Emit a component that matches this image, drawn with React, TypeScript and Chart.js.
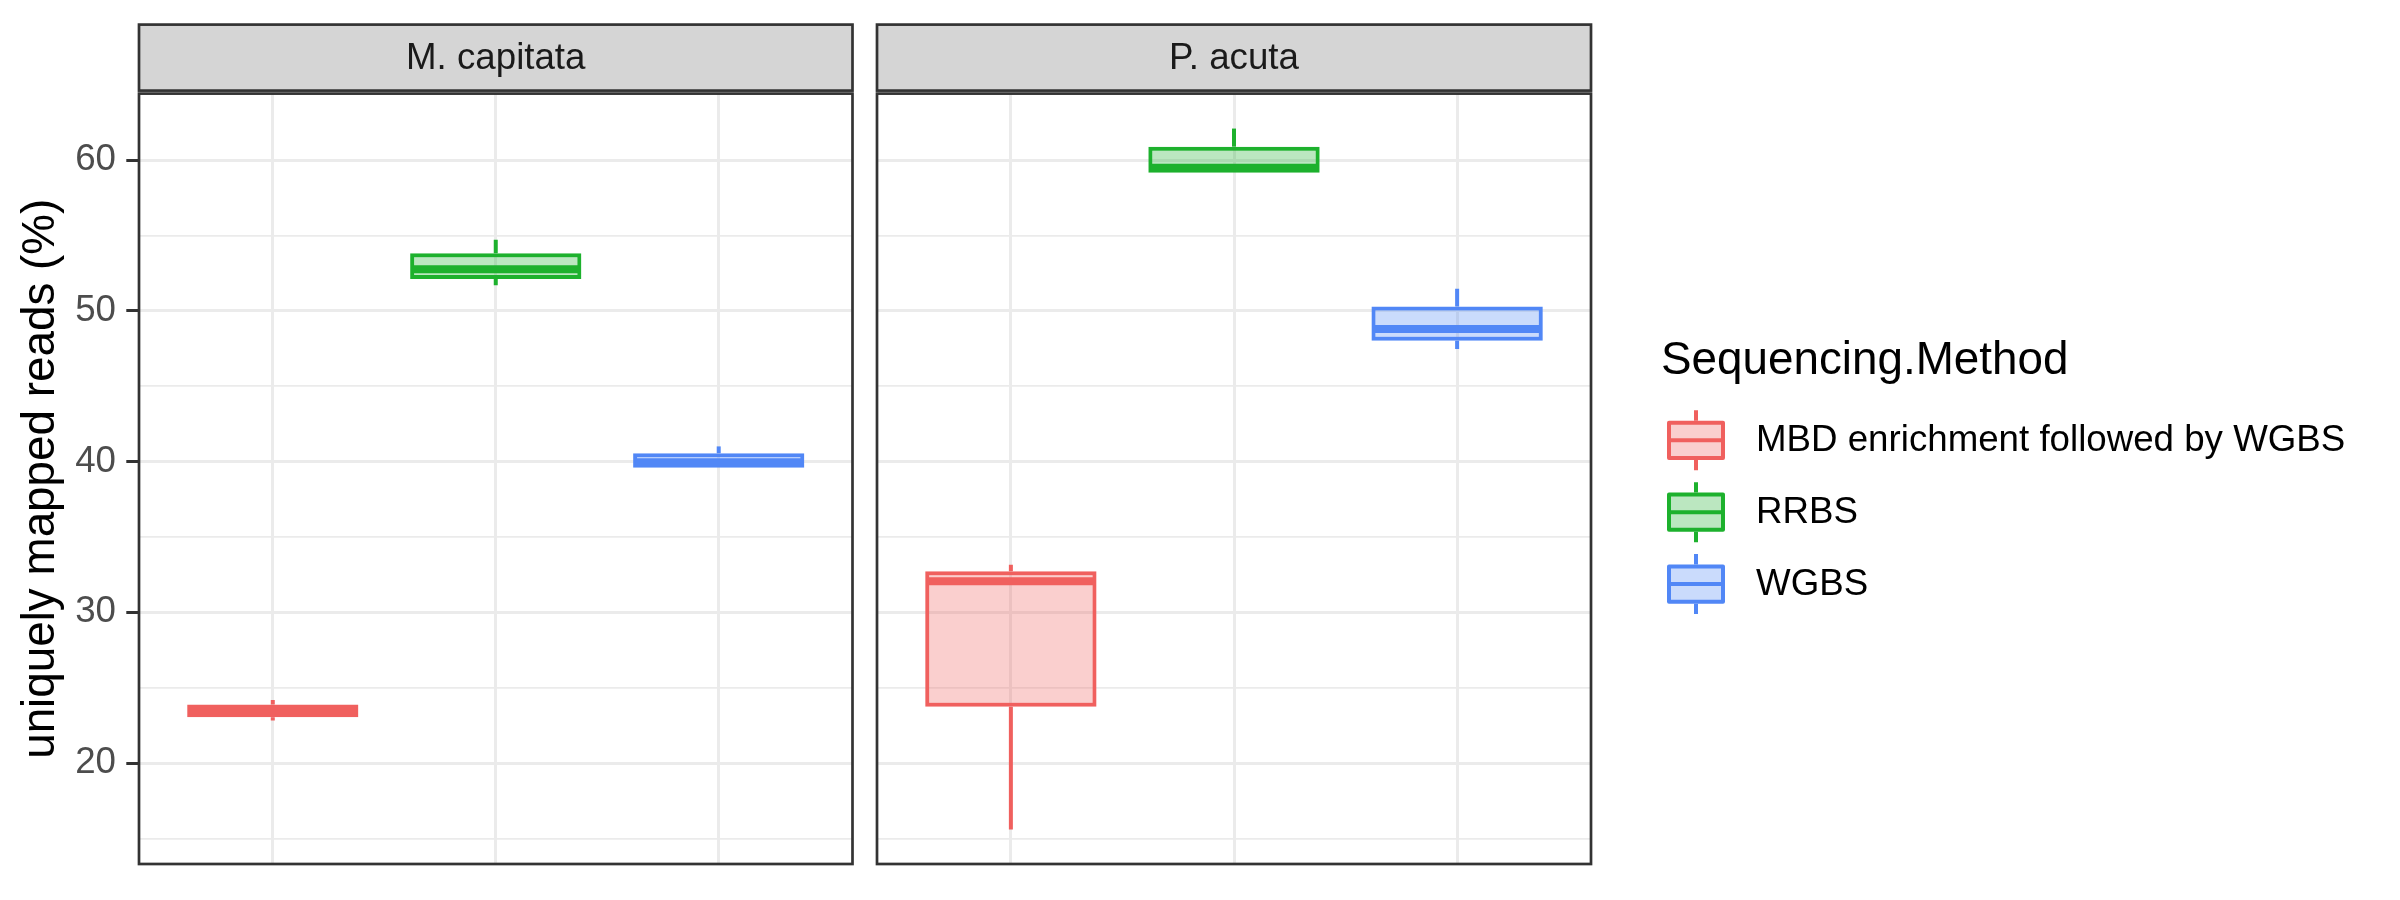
import React, { useEffect, useRef } from "react";
import { Chart, registerables } from "chart.js";

Chart.register(...registerables);

// ---------------- data ----------------
const facets = ["M. capitata", "P. acuta"];
const methods = ["MBD enrichment followed by WGBS", "RRBS", "WGBS"];
const methodX = [1, 2, 3];

// M. capitata box statistics (per method)
const capitataMin = [22.82, 51.71, 39.6];
const capitataQ1 = [23.04, 52.11, 39.6];
const capitataMedian = [23.45, 52.76, 39.95];
const capitataQ3 = [23.88, 53.83, 40.56];
const capitataMax = [24.19, 54.72, 41.01];

// P. acuta box statistics (per method)
const acutaMin = [15.59, 59.16, 47.47];
const acutaQ1 = [23.73, 59.16, 48.02];
const acutaMedian = [32.06, 59.5, 48.8];
const acutaQ3 = [32.72, 60.9, 50.29];
const acutaMax = [33.16, 62.1, 51.47];

const yMajorTicks = [20, 30, 40, 50, 60];
const yMinorTicks = [15, 25, 35, 45, 55];
const yLimits = [13.3, 64.42];
const xLimits = [0.4, 3.6];

const yTitle = "uniquely mapped reads (%)";
const legendTitle = "Sequencing.Method";

// ---------------- style ----------------
const FONT = '"Liberation Sans", Arial, Helvetica, sans-serif';
const methodColors = ["#F0605E", "#1DB12D", "#5187F6"];
const methodFills = [
  "rgba(240,96,94,0.3)",
  "rgba(29,177,45,0.3)",
  "rgba(81,135,246,0.3)",
];
const GRID = "#EBEBEB";
const DARK = "#333333";
const STRIP_FILL = "#D5D5D5";
const LINE_W = 4;
const MEDIAN_W = 8;

type Stats = { min: number[]; q1: number[]; med: number[]; q3: number[]; max: number[] };

const facetStats: Stats[] = [
  { min: capitataMin, q1: capitataQ1, med: capitataMedian, q3: capitataQ3, max: capitataMax },
  { min: acutaMin, q1: acutaQ1, med: acutaMedian, q3: acutaQ3, max: acutaMax },
];

function makeBoxPlugin(stats: Stats) {
  return {
    id: "boxExtras",
    beforeDatasetsDraw(chart: any) {
      const { ctx } = chart;
      const y = chart.scales.y;
      ctx.save();
      chart.data.datasets.forEach((ds: any, i: number) => {
        const bar = chart.getDatasetMeta(i).data[0];
        if (!bar) return;
        ctx.strokeStyle = ds.borderColor;
        ctx.lineWidth = LINE_W;
        ctx.lineCap = "butt";
        ctx.beginPath();
        const yq3 = y.getPixelForValue(stats.q3[i]);
        const ymax = y.getPixelForValue(stats.max[i]);
        const yq1 = y.getPixelForValue(stats.q1[i]);
        const ymin = y.getPixelForValue(stats.min[i]);
        if (ymax < yq3) {
          ctx.moveTo(bar.x, yq3);
          ctx.lineTo(bar.x, ymax);
        }
        if (ymin > yq1) {
          ctx.moveTo(bar.x, yq1);
          ctx.lineTo(bar.x, ymin);
        }
        ctx.stroke();
      });
      ctx.restore();
    },
    afterDatasetsDraw(chart: any) {
      const { ctx } = chart;
      const y = chart.scales.y;
      ctx.save();
      chart.data.datasets.forEach((ds: any, i: number) => {
        const bar = chart.getDatasetMeta(i).data[0];
        if (!bar) return;
        const ym = y.getPixelForValue(stats.med[i]);
        ctx.strokeStyle = ds.borderColor;
        ctx.lineWidth = MEDIAN_W;
        ctx.lineCap = "butt";
        ctx.beginPath();
        ctx.moveTo(bar.x - bar.width / 2 + LINE_W / 2, ym);
        ctx.lineTo(bar.x + bar.width / 2 - LINE_W / 2, ym);
        ctx.stroke();
      });
      ctx.restore();
    },
  };
}

function makeFramePlugin(stripText: string) {
  return {
    id: "facetFrame",
    afterDraw(chart: any) {
      const { ctx, chartArea } = chart;
      const { left, right, top, bottom } = chartArea;
      ctx.save();
      // panel border
      ctx.strokeStyle = DARK;
      ctx.lineWidth = 2.7;
      ctx.strokeRect(left, top, right - left, bottom - top);
      // strip
      const sTop = top - 69;
      const sBottom = top - 3;
      ctx.fillStyle = STRIP_FILL;
      ctx.fillRect(left, sTop, right - left, sBottom - sTop);
      ctx.strokeRect(left, sTop, right - left, sBottom - sTop);
      ctx.fillStyle = "#1A1A1A";
      ctx.font = `36.7px ${FONT}`;
      ctx.textAlign = "center";
      ctx.textBaseline = "middle";
      ctx.fillText(stripText, (left + right) / 2, (sTop + sBottom) / 2 + 1);
      ctx.restore();
    },
  };
}

const legendPlugin = {
  id: "methodLegend",
  afterDraw(chart: any) {
    const { ctx, chartArea } = chart;
    const x0 = chartArea.right;
    ctx.save();
    ctx.textAlign = "left";
    ctx.textBaseline = "middle";
    ctx.fillStyle = "#000000";
    ctx.font = `45.8px ${FONT}`;
    ctx.fillText(legendTitle, x0 + 70, 361.7);
    chart.data.datasets.forEach((ds: any, i: number) => {
      const cy = 440.3 + i * 71.9;
      const bl = x0 + 76;
      const bw = 58;
      const bh = 39.3;
      const cx = bl + bw / 2;
      ctx.lineJoin = "round";
      ctx.strokeStyle = ds.borderColor;
      ctx.lineWidth = LINE_W;
      ctx.beginPath();
      ctx.moveTo(cx, cy - 30);
      ctx.lineTo(cx, cy - bh / 2);
      ctx.moveTo(cx, cy + bh / 2);
      ctx.lineTo(cx, cy + 30);
      ctx.stroke();
      ctx.fillStyle = ds.backgroundColor;
      ctx.fillRect(bl + 2, cy - bh / 2 + 2, bw - 4, bh - 4);
      ctx.strokeRect(bl + 2, cy - bh / 2 + 2, bw - 4, bh - 4);
      ctx.beginPath();
      ctx.moveTo(bl + 2, cy);
      ctx.lineTo(bl + bw - 2, cy);
      ctx.stroke();
      ctx.fillStyle = "#000000";
      ctx.font = `36.7px ${FONT}`;
      ctx.fillText(ds.label, x0 + 165, cy + 1);
    });
    ctx.restore();
  },
};

function buildConfig(facetIndex: number, showAxis: boolean, padLeft: number, padRight: number, withLegend: boolean): any {
  const stats = facetStats[facetIndex];
  const datasets = methods.map((label, i) => ({
    label,
    data: [{ x: methodX[i], y: [stats.q1[i], stats.q3[i]] }],
    backgroundColor: methodFills[i],
    borderColor: methodColors[i],
    borderWidth: LINE_W,
    borderSkipped: false,
    grouped: false,
    barPercentage: 0.768,
    categoryPercentage: 1,
  }));
  const yTicks = [...yMajorTicks, ...yMinorTicks].sort((a, b) => a - b);
  const plugins: any[] = [makeBoxPlugin(stats), makeFramePlugin(facets[facetIndex])];
  if (withLegend) plugins.push(legendPlugin);
  return {
    type: "bar",
    data: { datasets },
    plugins,
    options: {
      responsive: false,
      animation: false,
      devicePixelRatio: 1,
      events: [],
      layout: { padding: { left: padLeft, right: padRight, top: 93.6, bottom: 36 } },
      plugins: {
        legend: { display: false },
        tooltip: { enabled: false },
        title: { display: false },
      },
      scales: {
        x: {
          type: "linear",
          min: xLimits[0],
          max: xLimits[1],
          offset: false,
          afterBuildTicks: (axis: any) => {
            axis.ticks = methodX.map((value) => ({ value }));
          },
          afterFit: (axis: any) => {
            axis.height = 0;
          },
          ticks: { display: false },
          grid: { color: GRID, lineWidth: 3, drawTicks: false, offset: false },
          border: { display: false },
        },
        y: {
          type: "linear",
          min: yLimits[0],
          max: yLimits[1],
          afterBuildTicks: (axis: any) => {
            axis.ticks = yTicks.map((value) => ({ value }));
          },
          afterFit: (axis: any) => {
            axis.width = showAxis ? 139 : 0;
          },
          ticks: {
            display: showAxis,
            autoSkip: false,
            padding: 10.3,
            color: "#4D4D4D",
            font: { family: FONT, size: 36.7 },
            callback: (v: any) => (yMajorTicks.includes(Number(v)) ? String(v) : ""),
          },
          grid: {
            color: GRID,
            lineWidth: (c: any) => (c.tick && yMajorTicks.includes(c.tick.value) ? 3 : 1.7),
            drawTicks: showAxis,
            tickLength: 12.7,
            tickWidth: 3,
            tickColor: (c: any) => (c.tick && yMajorTicks.includes(c.tick.value) ? DARK : "rgba(0,0,0,0)"),
          },
          border: { display: false },
          title: {
            display: showAxis,
            text: yTitle,
            color: "#000000",
            font: { family: FONT, size: 45.8 },
            padding: { top: 14, bottom: 0 },
          },
        },
      },
    },
  };
}

export default function App() {
  const leftRef = useRef<HTMLCanvasElement | null>(null);
  const rightRef = useRef<HTMLCanvasElement | null>(null);

  useEffect(() => {
    if (!leftRef.current || !rightRef.current) return;
    const c1 = new Chart(leftRef.current, buildConfig(0, true, 0, 7.5, false));
    const c2 = new Chart(rightRef.current, buildConfig(1, false, 17, 809, true));
    return () => {
      c1.destroy();
      c2.destroy();
    };
  }, []);

  return (
    <div
      style={{
        position: "absolute",
        left: 0,
        top: 0,
        width: 2400,
        height: 900,
        background: "#ffffff",
        overflow: "hidden",
      }}
    >
      <canvas
        ref={leftRef}
        width={860}
        height={900}
        style={{ position: "absolute", left: 0, top: 0, width: 860, height: 900 }}
      />
      <canvas
        ref={rightRef}
        width={1540}
        height={900}
        style={{ position: "absolute", left: 860, top: 0, width: 1540, height: 900 }}
      />
    </div>
  );
}
